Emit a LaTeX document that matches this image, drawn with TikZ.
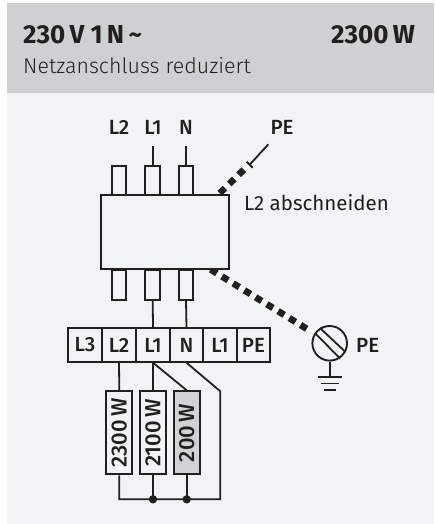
\documentclass[tikz,border=0pt]{standalone}
\usepackage{fontspec}
\setmainfont{Fira Sans}
\newfontfamily\lightfam{Fira Sans Light}
\newfontfamily\medfam{Fira Sans Medium}
\definecolor{hdr}{HTML}{CFD0D2}
\definecolor{bodybg}{HTML}{F1F3F5}
\definecolor{ink}{HTML}{231F20}
\definecolor{resg}{HTML}{D1D2D4}
\tikzset{
  wire/.style={draw=ink,line width=1.8pt},
  boxl/.style={draw=ink,line width=2pt,fill=bodybg},
  lbl/.style={text=ink,font=\fontsize{20.5}{21}\selectfont\medfam,inner sep=0pt},
  thick dash/.style={draw=ink,line width=6.6pt,dash pattern=on 7.2pt off 6pt},
  halo/.style={draw=white,line width=1.4pt},
  stub/.style={boxl,minimum width=14.5pt,inner sep=0pt},
  res/.style={boxl,minimum width=26.3pt,minimum height=83pt,inner sep=0pt},
}
\newcommand{\reslab}[1]{\rotatebox{90}{\fontsize{22}{22}\selectfont\medfam\color{ink}#1}}
\begin{document}
\begin{tikzpicture}[x=1pt,y=-1pt]
\useasboundingbox (0,0) rectangle (434,524);
\fill[white] (0,0) rectangle (434,524);
\fill[bodybg] (7,93) rectangle (434,524);
\fill[hdr] (7,3) rectangle (434,93);
\node[anchor=base west,inner sep=0pt,text=ink,font=\fontsize{26}{26}\selectfont\bfseries] (h1) at (23,43.5) {230\,V 1\,N\,\textasciitilde};
\node[anchor=base east,inner sep=0pt,text=ink,font=\fontsize{26}{26}\selectfont\bfseries] (h2) at (415,43.5) {2300\,W};
\node[anchor=base west,inner sep=0pt,text=ink,font=\fontsize{21.4}{22}\selectfont\lightfam] (h3) at (23,74) {Netzanschluss reduziert};
% top labels
\node[lbl,anchor=base] (tL2) at (119,134) {L2};
\node[lbl,anchor=base] (tL1) at (153,134) {L1};
\node[lbl,anchor=base] (tN) at (186,134) {N};
\node[lbl,anchor=base] (tPE) at (282,134) {PE};
\node[lbl,anchor=base west,font=\fontsize{20.5}{21}\selectfont] (cut) at (244,210) {L2 abschneiden};
\node[lbl,anchor=base west] (gPE) at (356,352.7) {PE};
% stubs
\node[stub,minimum height=29.5pt] (s1) at (119,180.5) {};
\node[stub,minimum height=29.5pt] (s2) at (152.7,180.5) {};
\node[stub,minimum height=29.5pt] (s3) at (186,180.5) {};
\node[stub,minimum height=30pt] (b1) at (119,284.5) {};
\node[stub,minimum height=30pt] (b2) at (152.7,284.5) {};
\node[stub,minimum height=30pt] (b3) at (186,284.5) {};
% PE lower (starts beneath the box)
\coordinate (qa) at (210.7,269.5);
\coordinate (qb) at (315,333);
\draw[halo] (qa) -- (qb);
\draw[thick dash] (qa) -- (308,329.6);
\node[draw=ink,line width=2.2pt,fill=bodybg,minimum width=127.5pt,minimum height=74pt,inner sep=0pt] (main) at (165,232) {};
\coordinate (i1) at (152.7,145.7);
\coordinate (i2) at (186,145.7);
\draw[wire] (i1) -- (s2.north);
\draw[wire] (i2) -- (s3.north);
% terminal
\foreach \n/\x/\w/\t in {a/85/34/L3,c/119/34/L2,d/153/33.5/L1,e/186.5/33.5/N,f/220/33.5/L1,g/253.4/33.3/PE}{
  \node[boxl,lbl,minimum width=\w pt,minimum height=33.4pt,anchor=center] (\n) at (\x,345) {\t};
}
\draw[wire] (b2.south) -- (d.north);
\draw[wire] (b3.south) -- (e.north);
% resistors
\node[res] (r1) at (119.3,432.8) {\reslab{2300\,W}};
\node[res] (r2) at (153,432.8) {\reslab{2100\,W}};
\node[res,fill=resg] (r3) at (186.7,432.8) {\reslab{200\,W}};
\coordinate (rb) at (220.3,391.3);
\coordinate (lo1) at (119.3,499.3);
\coordinate (lo2) at (220.3,499.3);
\draw[wire] (c.south) -- (r1.north);
\draw[wire] (d.south) -- (r2.north);
\draw[wire] (d.south) -- (r3.north);
\draw[wire,line join=miter] (e.south) -- (rb) -- (lo2) -- (lo1) -- (r1.south);
\coordinate (j2) at (153,499.3);
\coordinate (j3) at (186.7,499.3);
\draw[wire] (r2.south) -- (j2);
\draw[wire] (r3.south) -- (j3);
\fill[ink] (j2) circle (4.2pt) (j3) circle (4.2pt);
% PE upper
\coordinate (pa) at (219.8,193.2);
\coordinate (pb) at (247,166.5);
\coordinate (pc) at (268.3,144.3);
\coordinate (pt1) at (246.7,161.7);
\coordinate (pt2) at (252.7,167.7);
\coordinate (pm) at (249.7,164.7);
\draw[halo] (pa) -- (pm);
\draw[thick dash] (pa) -- (pb);
\draw[wire] (pm) -- (pc);
\draw[wire] (pt1) -- (pt2);
% earth symbol
\node[draw=ink,line width=1.9pt,circle,minimum size=34.6pt,inner sep=0pt] (gnd) at (329.7,343.3) {};
\coordinate (d1a) at (315,333);
\coordinate (d1b) at (340,358.5);
\coordinate (d2a) at (320,328);
\coordinate (d2b) at (345.5,352);
\draw[wire] (d1a) -- (d1b);
\draw[wire] (d2a) -- (d2b);
\coordinate (g0) at (329.7,377);
\draw[wire] (gnd.south) -- (g0);
\coordinate (g1a) at (317.7,377);
\coordinate (g1b) at (341.7,377);
\coordinate (g2a) at (320.7,383.5);
\coordinate (g2b) at (339,383.5);
\coordinate (g3a) at (324,390);
\coordinate (g3b) at (335.7,390);
\draw[wire] (g1a) -- (g1b);
\draw[wire] (g2a) -- (g2b);
\draw[wire] (g3a) -- (g3b);
\end{tikzpicture}
\end{document}
